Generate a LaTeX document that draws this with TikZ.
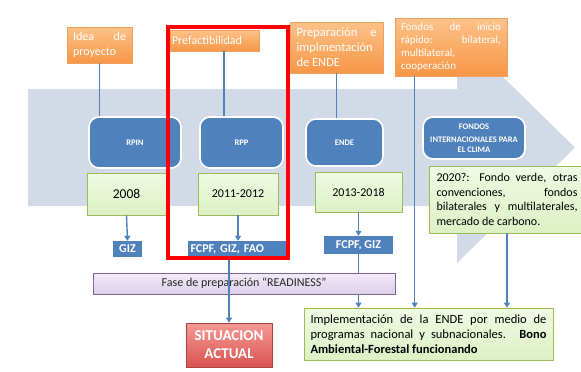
\documentclass[tikz,border=0pt]{standalone}
\usepackage{fontspec}
\setmainfont{Carlito}
\usetikzlibrary{arrows.meta, positioning, shadows}
\definecolor{arrowbg}{HTML}{D3DAE7}
\definecolor{linkblue}{HTML}{4F81BD}
\definecolor{boxblue}{HTML}{4F81BD}
\definecolor{orangetop}{HTML}{FCC289}
\definecolor{orangebot}{HTML}{F79646}
\definecolor{orangeline}{HTML}{F0A060}
\definecolor{greentop}{HTML}{F0FAE4}
\definecolor{greenbot}{HTML}{DDF0C4}
\definecolor{greenline}{HTML}{9BBB59}
\definecolor{lilactop}{HTML}{F1EBF8}
\definecolor{lilacbot}{HTML}{DCCFEA}
\definecolor{lilacline}{HTML}{8064A2}
\definecolor{nowtop}{HTML}{F59A96}
\definecolor{nowbot}{HTML}{D9534F}
\definecolor{frame}{HTML}{FF0000}

\begin{document}
\begin{tikzpicture}[x=1pt, y=-1pt,
    link/.style={draw=linkblue, line width=1.4pt},
    flow/.style={link, -{Triangle[width=6pt, length=5pt]}},
    stagebox/.style={draw=orangeline, line width=0.6pt, top color=orangetop,
      bottom color=orangebot, text=white, inner ysep=2pt,
      drop shadow={opacity=0.25, shadow xshift=1pt, shadow yshift=-1pt}},
    pillbox/.style={rounded corners=10pt, fill=boxblue, draw=white, line width=1.6pt,
      text=white, align=center, font=\fontsize{8.5}{9.5}\selectfont\bfseries},
    yearbox/.style={draw=greenline, line width=0.8pt, top color=greentop,
      bottom color=greenbot, text=black,
      drop shadow={opacity=0.2, shadow xshift=1pt, shadow yshift=-1pt}},
    fundbox/.style={fill=boxblue, text=white, inner sep=0pt,
      font=\fontsize{12}{14}\selectfont\bfseries,
      preaction={draw=white, line width=7pt}},
    readybox/.style={draw=lilacline, line width=0.7pt, top color=lilactop,
      bottom color=lilacbot, text=black!85,
      drop shadow={opacity=0.2, shadow xshift=1pt, shadow yshift=-1pt}},
    nowbox/.style={draw=nowbot!80!black, line width=0.6pt, top color=nowtop,
      bottom color=nowbot, text=white, align=center,
      font=\fontsize{15}{18}\selectfont\bfseries,
      drop shadow={opacity=0.25, shadow xshift=1pt, shadow yshift=-1pt}}]
  \useasboundingbox (0,0) rectangle (581,372);
  % background arrow
  \fill[arrowbg] (28,89) -- (457,89) -- (457,32) -- (575,147.5)
    -- (457,263) -- (457,206) -- (28,206) -- cycle;

  % stages
  \node[stagebox, text width=53pt, inner xsep=6pt, minimum height=36pt, align=justify,
    font=\fontsize{12}{15}\selectfont] (idea) at (99.5,45) {Idea de\linebreak proyecto};
  \node[stagebox, text width=85pt, inner xsep=2pt, minimum height=21pt, align=left,
    font=\fontsize{12}{15}\selectfont] (prefac) at (214.5,40.5) {Prefactibilidad};
  \node[stagebox, text width=80pt, inner xsep=6.5pt, minimum height=51pt, align=justify,
    font=\fontsize{12.5}{15}\selectfont] (prep) at (336.5,47.5)
    {Preparación e\linebreak implmentación\\de ENDE};
  \node[stagebox, text width=100pt, inner xsep=6pt, minimum height=58pt, align=justify,
    font=\fontsize{11}{13}\selectfont] (quick) at (451,47)
    {Fondos de inicio\linebreak rápido: bilateral,\linebreak multilateral,\\cooperación};

  % phases
  \node[pillbox, minimum width=92pt, minimum height=51pt] (rpin) at (135,142.5) {RPIN};
  \node[pillbox, minimum width=83pt, minimum height=51pt] (rpp) at (241.5,142.5) {RPP};
  \node[pillbox, minimum width=77pt, minimum height=47pt] (ende) at (344.5,142.5) {ENDE};
  \node[pillbox, minimum width=102pt, minimum height=42pt] (intl) at (474,138)
    {FONDOS\\[3.5pt]INTERNACIONALES PARA\\EL CLIMA};

  % years
  \node[yearbox, minimum width=79pt, minimum height=42pt,
    font=\fontsize{13.5}{16}\selectfont] (y2008) at (126.5,194) {2008};
  \node[yearbox, minimum width=80pt, minimum height=42pt,
    font=\fontsize{12}{14}\selectfont] (y2011) at (238,194) {2011-2012};
  \node[yearbox, minimum width=87pt, minimum height=40pt,
    font=\fontsize{12}{14}\selectfont] (y2013) at (358.5,192) {2013-2018};
  \node[yearbox, text width=141pt, inner xsep=7.5pt, minimum height=67pt, align=justify,
    font=\fontsize{12}{14.5}\selectfont] (y2020) at (507,199.5)
    {2020?: Fondo verde, otras\linebreak convenciones, fondos\linebreak
     bilaterales y multilaterales,\linebreak mercado de carbono.};

  % funders
  \node[fundbox, minimum width=29pt, minimum height=16pt] (giz) at (127.5,249) {GIZ};
  \node[fundbox, minimum width=100pt, minimum height=16pt, text width=95pt,
    align=left] (fcpfa) at (238,249) {FCPF, GIZ, FAO};
  \node[fundbox, minimum width=69pt, minimum height=18pt] (fcpfb) at (358.5,245) {FCPF, GIZ};

  % readiness and outcome
  \node[readybox, minimum width=302pt, minimum height=21pt,
    font=\fontsize{12}{14}\selectfont] (ready) at (244,283.5)
    {Fase de preparación “READINESS”};
  \node[nowbox, minimum width=86pt, minimum height=44pt] (now) at (229,345)
    {SITUACION\\ACTUAL};
  \node[yearbox, text width=236pt, inner xsep=6.5pt, minimum height=52pt, align=justify,
    font=\fontsize{12.5}{15}\selectfont] (impl) at (428.5,334)
    {Implementación de la ENDE por medio de\linebreak programas nacional y
     subnacionales. \textbf{Bono}\linebreak \textbf{Ambiental-Forestal funcionando}};

  % connectors
  \draw[link] (idea.south) -- (idea.south |- rpin.north);
  \draw[link] ([xshift=9.5pt]prefac.south) -- ([xshift=9.5pt]prefac.south |- rpp.north);
  \draw[link] (prep.south) -- (prep.south |- ende.north);
  \draw[flow] ([xshift=20pt]quick.south west) -- ([xshift=20pt]quick.south west |- impl.north);
  \draw[flow] (y2008.south) -- (giz.north);
  \draw[flow] (y2011.south) -- (fcpfa.north);
  \draw[flow] (y2013.south) -- (fcpfb.north);
  \draw[link] (fcpfb.south) -- (fcpfb.south |- ready.north);
  \draw[flow] (fcpfb.south |- ready.south) -- (fcpfb.south |- impl.north);
  \draw[flow] (fcpfa.south -| now.north) -- (now.north);
  \draw[flow] (y2020.south) -- (y2020.south |- impl.north);

  % current stage
  \draw[frame, line width=4pt] (168,27) rectangle (288,258);
\end{tikzpicture}
\end{document}
